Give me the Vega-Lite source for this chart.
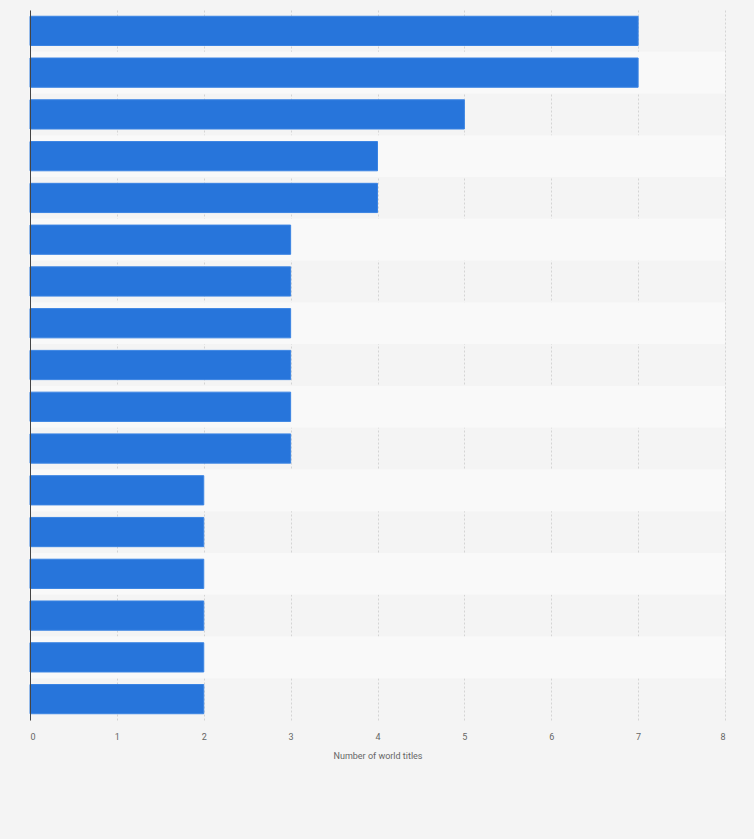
{
  "$schema": "https://vega.github.io/schema/vega-lite/v6.json",
  "autosize": {"type": "none"},
  "width": 695,
  "height": 710,
  "padding": {"left": 30, "top": 10, "right": 29, "bottom": 119},
  "background": "#f4f4f4",
  "config": {"view": {"stroke": null}, "font": "Roboto"},
  "data": {"values": [
    {"driver": "Michael Schumacher", "titles": 7},
    {"driver": "Lewis Hamilton", "titles": 7},
    {"driver": "Juan Manuel Fangio", "titles": 5},
    {"driver": "Alain Prost", "titles": 4},
    {"driver": "Sebastian Vettel", "titles": 4},
    {"driver": "Jack Brabham", "titles": 3},
    {"driver": "Jackie Stewart", "titles": 3},
    {"driver": "Niki Lauda", "titles": 3},
    {"driver": "Nelson Piquet", "titles": 3},
    {"driver": "Ayrton Senna", "titles": 3},
    {"driver": "Max Verstappen", "titles": 3},
    {"driver": "Alberto Ascari", "titles": 2},
    {"driver": "Graham Hill", "titles": 2},
    {"driver": "Jim Clark", "titles": 2},
    {"driver": "Emerson Fittipaldi", "titles": 2},
    {"driver": "Mika Häkkinen", "titles": 2},
    {"driver": "Fernando Alonso", "titles": 2}
  ]},
  "transform": [{"window": [{"op": "row_number", "as": "idx"}]}],
  "layer": [
    {
      "transform": [{"filter": "datum.idx % 2 == 0"}],
      "mark": {"type": "rect", "color": "#f9f9f9"},
      "encoding": {
        "y": {"field": "driver", "type": "nominal", "sort": {"field": "idx", "order": "ascending"}, "scale": {"paddingInner": 0, "paddingOuter": 0, "domain": ["Michael Schumacher","Lewis Hamilton","Juan Manuel Fangio","Alain Prost","Sebastian Vettel","Jack Brabham","Jackie Stewart","Niki Lauda","Nelson Piquet","Ayrton Senna","Max Verstappen","Alberto Ascari","Graham Hill","Jim Clark","Emerson Fittipaldi","Mika Häkkinen","Fernando Alonso"]}, "axis": null},
        "x": {"datum": 0, "type": "quantitative", "scale": {"domain": [0, 8]},
          "axis": {"title": "Number of world titles", "titleFontSize": 9, "titleColor": "#666666", "titleFontWeight": "normal", "titlePadding": 10,
            "labelFontSize": 9, "labelColor": "#666666", "labelPadding": 12, "labelOverlap": false, "ticks": false, "domain": false,
            "grid": true, "gridColor": "#d4d4d4", "gridDash": [2, 2], "gridWidth": 1, "values": [0,1,2,3,4,5,6,7,8]}},
        "x2": {"datum": 8}
      }
    },
    {
      "mark": {"type": "bar", "color": "#2775db", "stroke": "#3b84e3", "strokeWidth": 1},
      "encoding": {
        "y": {"field": "driver", "type": "nominal", "sort": {"field": "idx", "order": "ascending"}, "scale": {"paddingInner": 0.3, "paddingOuter": 0.15, "domain": ["Michael Schumacher","Lewis Hamilton","Juan Manuel Fangio","Alain Prost","Sebastian Vettel","Jack Brabham","Jackie Stewart","Niki Lauda","Nelson Piquet","Ayrton Senna","Max Verstappen","Alberto Ascari","Graham Hill","Jim Clark","Emerson Fittipaldi","Mika Häkkinen","Fernando Alonso"]},
          "axis": {"title": null, "labels": false, "ticks": false, "grid": false, "domain": true, "domainColor": "#444444", "domainWidth": 1, "zindex": 1}},
        "x": {"field": "titles", "type": "quantitative", "scale": {"domain": [0, 8]},
          "axis": {"title": "Number of world titles", "titleFontSize": 9, "titleColor": "#666666", "titleFontWeight": "normal", "titlePadding": 10,
            "labelFontSize": 9, "labelColor": "#666666", "labelPadding": 12, "labelOverlap": false, "ticks": false, "domain": false,
            "grid": true, "gridColor": "#d4d4d4", "gridDash": [2, 2], "gridWidth": 1, "values": [0,1,2,3,4,5,6,7,8]}}
      }
    }
  ],
  "resolve": {"scale": {"y": "independent"}, "axis": {"y": "independent"}}
}
